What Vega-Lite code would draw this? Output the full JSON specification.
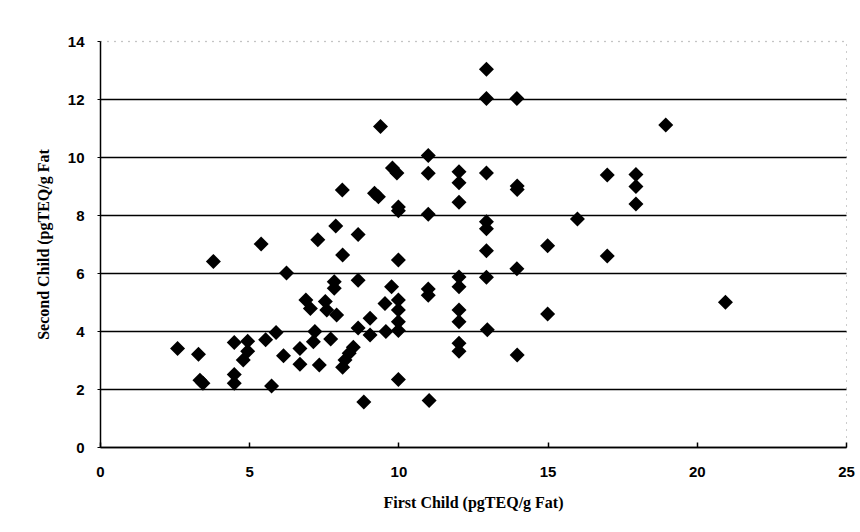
{
  "$schema": "https://vega.github.io/schema/vega-lite/v6.json",
  "width": 746,
  "height": 406,
  "autosize": {"type": "none"},
  "padding": {"left": 100, "top": 41, "right": 14, "bottom": 85},
  "background": "white",
  "config": {
    "view": {"stroke": "#999999", "strokeWidth": 1, "strokeDash": [1, 6]},
    "axis": {"labelFont": "Liberation Sans", "labelFontWeight": "bold", "labelFontSize": 15, "labelColor": "black", "titleFont": "Liberation Serif", "titleFontWeight": "bold", "titleFontSize": 16, "titleColor": "black", "domainColor": "black", "domainWidth": 1.5, "tickColor": "black"}
  },
  "data": {"values": [
    {"first": 2.6, "second": 3.4}, {"first": 3.3, "second": 3.2}, {"first": 3.35, "second": 2.3}, {"first": 3.45, "second": 2.2},
    {"first": 3.8, "second": 6.4}, {"first": 4.5, "second": 3.6}, {"first": 4.5, "second": 2.5}, {"first": 4.5, "second": 2.2},
    {"first": 4.95, "second": 3.65}, {"first": 4.95, "second": 3.3}, {"first": 4.8, "second": 3.0}, {"first": 5.4, "second": 7.0},
    {"first": 5.55, "second": 3.7}, {"first": 5.9, "second": 3.95}, {"first": 5.75, "second": 2.1}, {"first": 6.15, "second": 3.15},
    {"first": 6.25, "second": 6.0}, {"first": 6.7, "second": 3.4}, {"first": 6.7, "second": 2.85}, {"first": 6.9, "second": 5.07},
    {"first": 7.05, "second": 4.78}, {"first": 7.2, "second": 3.98}, {"first": 7.15, "second": 3.63}, {"first": 7.3, "second": 7.15},
    {"first": 7.35, "second": 2.83}, {"first": 7.55, "second": 5.02}, {"first": 7.6, "second": 4.72}, {"first": 7.73, "second": 3.72},
    {"first": 7.9, "second": 7.62}, {"first": 7.85, "second": 5.7}, {"first": 7.85, "second": 5.47}, {"first": 7.93, "second": 4.55},
    {"first": 8.12, "second": 8.86}, {"first": 8.13, "second": 6.62}, {"first": 8.49, "second": 3.44}, {"first": 8.35, "second": 3.23},
    {"first": 8.21, "second": 3.0}, {"first": 8.13, "second": 2.75}, {"first": 8.65, "second": 7.33}, {"first": 8.65, "second": 5.75},
    {"first": 8.65, "second": 4.1}, {"first": 8.84, "second": 1.55}, {"first": 9.05, "second": 4.44}, {"first": 9.05, "second": 3.86},
    {"first": 9.2, "second": 8.75}, {"first": 9.33, "second": 8.63}, {"first": 9.4, "second": 11.05}, {"first": 9.55, "second": 4.95},
    {"first": 9.58, "second": 3.98}, {"first": 9.77, "second": 5.53}, {"first": 9.8, "second": 9.62}, {"first": 9.95, "second": 9.45},
    {"first": 10.0, "second": 8.28}, {"first": 10.0, "second": 8.15}, {"first": 10.0, "second": 6.45}, {"first": 10.0, "second": 5.07},
    {"first": 10.0, "second": 4.72}, {"first": 10.0, "second": 4.32}, {"first": 10.0, "second": 4.02}, {"first": 10.0, "second": 2.33},
    {"first": 11.0, "second": 10.05}, {"first": 11.0, "second": 9.44}, {"first": 11.0, "second": 8.03}, {"first": 11.0, "second": 5.45},
    {"first": 11.0, "second": 5.23}, {"first": 11.03, "second": 1.6}, {"first": 12.03, "second": 9.49}, {"first": 12.03, "second": 9.11},
    {"first": 12.03, "second": 8.44}, {"first": 12.03, "second": 5.86}, {"first": 12.03, "second": 5.53}, {"first": 12.03, "second": 4.72},
    {"first": 12.03, "second": 4.32}, {"first": 12.03, "second": 3.58}, {"first": 12.03, "second": 3.3}, {"first": 12.95, "second": 13.03},
    {"first": 12.95, "second": 12.02}, {"first": 12.95, "second": 9.45}, {"first": 12.95, "second": 7.77}, {"first": 12.95, "second": 7.53},
    {"first": 12.95, "second": 6.77}, {"first": 12.95, "second": 5.85}, {"first": 12.98, "second": 4.04}, {"first": 13.97, "second": 12.02},
    {"first": 13.98, "second": 9.0}, {"first": 13.98, "second": 8.88}, {"first": 13.97, "second": 6.15}, {"first": 13.98, "second": 3.17},
    {"first": 15.0, "second": 6.94}, {"first": 15.0, "second": 4.59}, {"first": 16.0, "second": 7.86}, {"first": 17.0, "second": 9.38},
    {"first": 17.0, "second": 6.59}, {"first": 17.96, "second": 9.4}, {"first": 17.96, "second": 8.98}, {"first": 17.96, "second": 8.38},
    {"first": 18.96, "second": 11.1}, {"first": 20.96, "second": 4.99}
  ]},
  "mark": {"type": "point", "shape": "diamond", "filled": true, "size": 225, "color": "black", "opacity": 1},
  "encoding": {
    "x": {"field": "first", "type": "quantitative", "scale": {"domain": [0, 25], "nice": false, "zero": true},
      "axis": {"title": "First Child (pgTEQ/g Fat)", "values": [0, 5, 10, 15, 20, 25], "grid": false, "tickSize": -5, "tickWidth": 1.5, "labelPadding": 22, "titlePadding": 15, "labelFlush": false}},
    "y": {"field": "second", "type": "quantitative", "scale": {"domain": [0, 14], "nice": false},
      "axis": {"title": "Second Child (pgTEQ/g Fat", "values": [0, 2, 4, 6, 8, 10, 12, 14], "grid": true,
        "gridColor": {"condition": {"test": "datum.value === 14", "value": "#bbbbbb"}, "value": "black"},
        "gridDash": {"condition": {"test": "datum.value === 14", "value": [1, 6]}, "value": []},
        "gridWidth": 1.5, "gridOpacity": 1, "tickSize": 3, "labelPadding": 13, "titlePadding": 16, "labelFlush": false}}
  }
}
